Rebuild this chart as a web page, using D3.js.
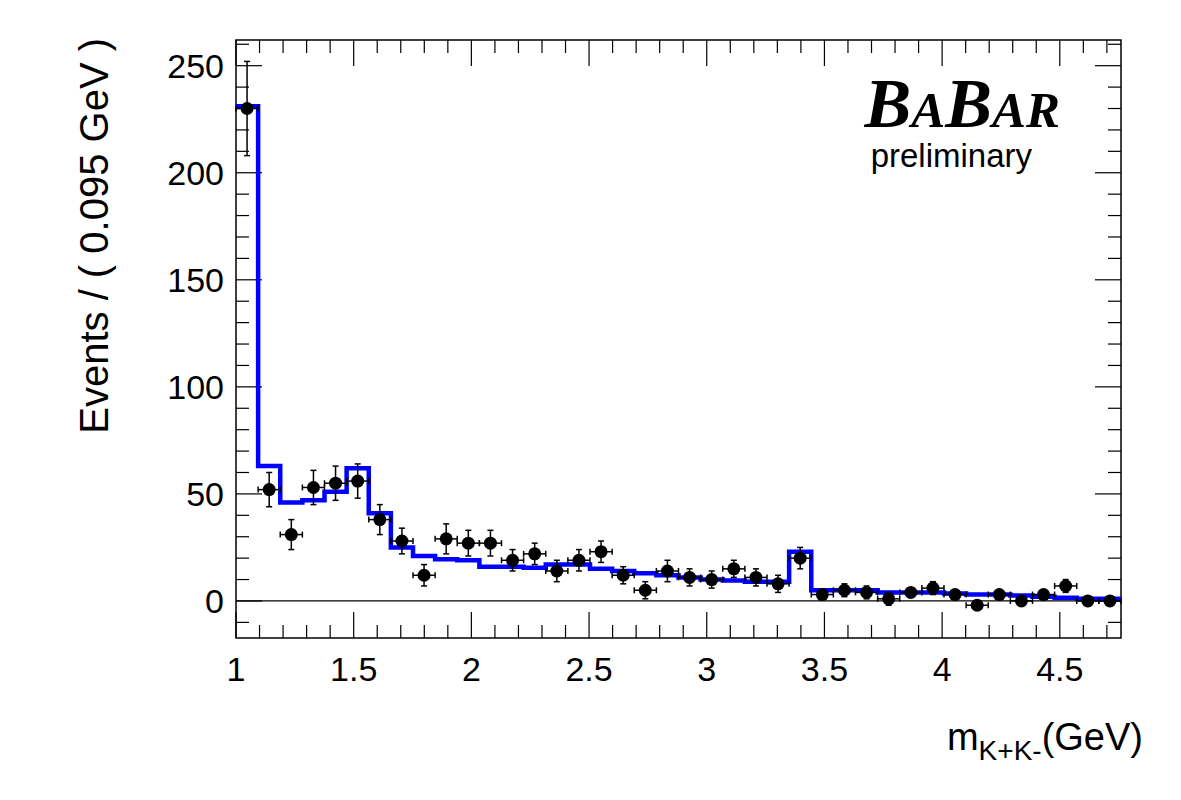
<!DOCTYPE html><html><head><script src="https://cdn.jsdelivr.net/npm/d3@7"></script>
<style>body{margin:0;background:#fff}</style></head><body><svg id="c" width="1181" height="800"></svg>
<script>
const dataVals=[230,52,31,53,55,56,38,28,12,29,27,27,19,22,14,19,23,12,5,14,11,10,15,11,8,20,3,5,4,1,4,6,3,-2,3,0,3,7,0,0];
const dataErrs=[22,8,7,8,8,8,7,6,5,7,6,6,5,5,5,5,5,4,4,5,4,4,4,4,4,5,2,3,3,3,2,3,2,2,2,2,2,3,1,1];
const fitVals=[231,63,46,47,51,62,41,25,21,19.5,19,16,16,15.5,17,17,15,14,13,12,11,10,9.5,9,9,23,5,5,5,4,4,4,3.5,3,3,2.5,2,1.5,1,1];
const xTicks=[1,1.5,2,2.5,3,3.5,4,4.5];
const yTicks=[0,50,100,150,200,250];
const xMin=1,xMax=4.76,nb=dataVals.length,bw=(xMax-xMin)/nb;
const L=236,R=1121,T=40,B=638;
const x=d3.scaleLinear().domain([xMin,xMax]).range([L,R]);
const y=d3.scaleLinear().domain([-17.3,262]).range([B,T]);
const s=d3.select("#c");
const F="Liberation Sans, Arial, sans-serif";
s.append("line").attr("x1",L).attr("x2",R).attr("y1",y(0)).attr("y2",y(0)).attr("stroke","#000").attr("stroke-width",1.2);
const g=s.append("g").attr("stroke","#000").attr("stroke-width",1.2);
for(let v=1;v<=4.7001;v+=0.1){const maj=Math.abs(v*2-Math.round(v*2))<1e-6;const l=maj?26:13;const px=x(v);
 g.append("line").attr("x1",px).attr("x2",px).attr("y1",B).attr("y2",B-l);
 g.append("line").attr("x1",px).attr("x2",px).attr("y1",T).attr("y2",T+l);}
for(let v=-10;v<=260;v+=10){const maj=v%50===0;const l=maj?26:13;const py=y(v);
 g.append("line").attr("x1",L).attr("x2",L+l).attr("y1",py).attr("y2",py);
 g.append("line").attr("x1",R).attr("x2",R-l).attr("y1",py).attr("y2",py);}
s.append("rect").attr("x",L).attr("y",T).attr("width",R-L).attr("height",B-T).attr("fill","none").attr("stroke","#000").attr("stroke-width",1.5);
xTicks.forEach(v=>s.append("text").attr("x",x(v)).attr("y",681).attr("text-anchor","middle").attr("font-family",F).attr("font-size",34).text(v));
yTicks.forEach(v=>s.append("text").attr("x",224).attr("y",y(v)+12).attr("text-anchor","end").attr("font-family",F).attr("font-size",34).text(v));
s.append("text").attr("transform","translate(108,38) rotate(-90)").attr("text-anchor","end").attr("font-family",F).attr("font-size",40).text("Events / ( 0.095 GeV )");
const xl=s.append("text").attr("x",1143).attr("y",750).attr("text-anchor","end").attr("font-family",F).attr("font-size",38);
xl.append("tspan").text("m");xl.append("tspan").attr("font-size",28).attr("dy",10).text("K+K-");xl.append("tspan").attr("dy",-10).text("(GeV)");
let pts=[];fitVals.forEach((v,i)=>{pts.push([x(xMin+i*bw),y(v)]);pts.push([x(xMin+(i+1)*bw),y(v)]);});
s.append("path").attr("d",d3.line()(pts)).attr("fill","none").attr("stroke","#0000ff").attr("stroke-width",4.5);
const dg=s.append("g");
dataVals.forEach((v,i)=>{const cx=x(xMin+(i+0.5)*bw),cy=y(v),e=dataErrs[i];
 dg.append("line").attr("x1",x(xMin+i*bw)).attr("x2",x(xMin+(i+1)*bw)).attr("y1",cy).attr("y2",cy).attr("stroke","#000").attr("stroke-width",1.5);
 dg.append("line").attr("x1",cx).attr("x2",cx).attr("y1",y(v+e)).attr("y2",y(v-e)).attr("stroke","#000").attr("stroke-width",1.5);
 [x(xMin+i*bw),x(xMin+(i+1)*bw)].forEach(px=>dg.append("line").attr("x1",px).attr("x2",px).attr("y1",cy-3).attr("y2",cy+3).attr("stroke","#000").attr("stroke-width",1.5));
 [y(v+e),y(v-e)].forEach(py=>dg.append("line").attr("x1",cx-3).attr("x2",cx+3).attr("y1",py).attr("y2",py).attr("stroke","#000").attr("stroke-width",1.5));
 dg.append("circle").attr("cx",cx).attr("cy",cy).attr("r",6.5).attr("fill","#000");});
const lg=s.append("text").attr("x",1060).attr("y",127).attr("text-anchor","end").attr("font-family","Liberation Serif, Times New Roman, serif").attr("font-style","italic").attr("font-weight","bold").attr("font-size",70);
lg.append("tspan").text("B");lg.append("tspan").attr("font-size",51).text("A");lg.append("tspan").text("B");lg.append("tspan").attr("font-size",51).text("AR");
s.append("text").attr("x",1032).attr("y",167).attr("text-anchor","end").attr("font-family",F).attr("font-size",33).text("preliminary");
</script></body></html>
